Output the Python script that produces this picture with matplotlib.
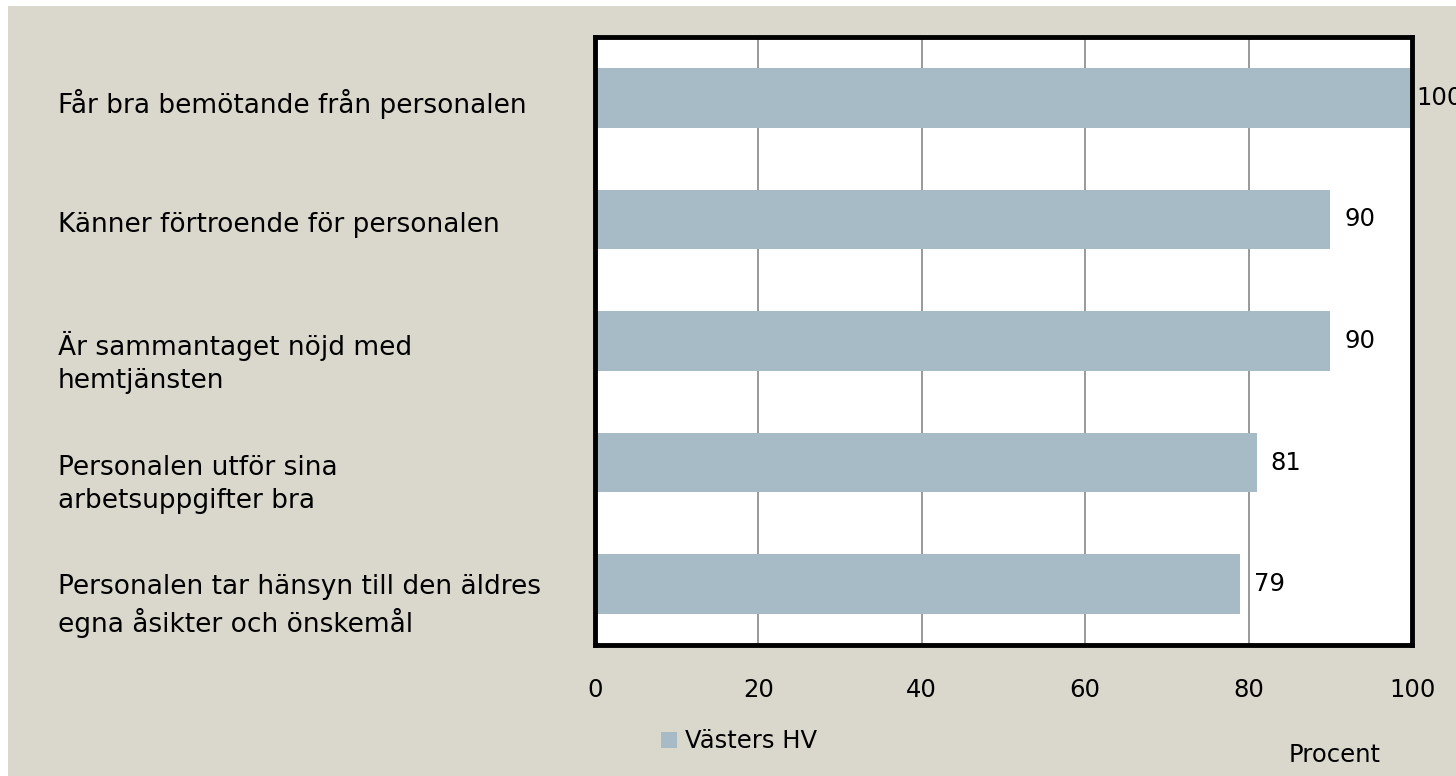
import matplotlib
matplotlib.use("Agg")
import matplotlib.pyplot as plt
import matplotlib.transforms as mtransforms
from matplotlib.patches import Rectangle

categories = [
    "Får bra bemötande från personalen",
    "Känner förtroende för personalen",
    "Är sammantaget nöjd med\nhemtjänsten",
    "Personalen utför sina\narbetsuppgifter bra",
    "Personalen tar hänsyn till den äldres\negna åsikter och önskemål",
]
values = [100, 90, 90, 81, 79]
series_name = "Västers HV"
x_ticks = [0, 20, 40, 60, 80, 100]
x_label = "Procent"

bg = "#dad8cc"
bar_color = "#a7bbc6"
plt.rcParams["font.family"] = ["DejaVu Sans"]
fs = 17.5

fig = plt.figure(figsize=(14.56, 7.76), dpi=100)
fig.patch.set_facecolor("white")
# beige panel with thin white margin at top/left
fig.patches.append(Rectangle((8 / 1456, 0), 1, 1 - 6 / 776, transform=fig.transFigure,
                             facecolor=bg, edgecolor="none", zorder=-5))

ax = fig.add_axes([595 / 1456, 1 - 645 / 776, 817 / 1456, 608 / 776])
ax.set_facecolor("white")

ypos = list(range(len(categories)))
ax.barh(ypos, values, height=0.49, color=bar_color, zorder=2)
ax.set_ylim(len(categories) - 0.5, -0.5)
ax.set_xlim(0, 100)
ax.set_xticks(x_ticks)
ax.set_yticks([])
ax.grid(axis="x", color="#888888", linewidth=1.2, zorder=1)
ax.tick_params(axis="x", length=0, pad=24, labelsize=fs)
for s in ax.spines.values():
    s.set_linewidth(3.5)
    s.set_color("black")

# data labels (the one at the axis edge sits tight against the frame)
for y, v in zip(ypos, values):
    dx = 3 if v >= x_ticks[-1] else 10
    ax.annotate(f"{v}", (v, y), xytext=(dx, 0), textcoords="offset points",
                va="center", ha="left", fontsize=fs, annotation_clip=False, zorder=3)

# category labels, left aligned
tr = mtransforms.blended_transform_factory(fig.transFigure, ax.transData)
for y, lab in zip(ypos, categories):
    off = 0.18 if "\n" in lab else 0.05
    ax.text(58 / 1456, y + off, lab, transform=tr, ha="left", va="center",
            fontsize=19, linespacing=1.35)

fig.text(1335 / 1456, 1 - 755 / 776, x_label, ha="center", va="center", fontsize=fs)

# legend
fig.patches.append(Rectangle((661 / 1456, 1 - 748 / 776), 16 / 1456, 16 / 776,
                             transform=fig.transFigure, facecolor=bar_color, edgecolor="none"))
fig.text(685 / 1456, 1 - 741 / 776, series_name, ha="left", va="center", fontsize=fs)

fig.savefig("out.png", dpi=100, facecolor=fig.get_facecolor())
